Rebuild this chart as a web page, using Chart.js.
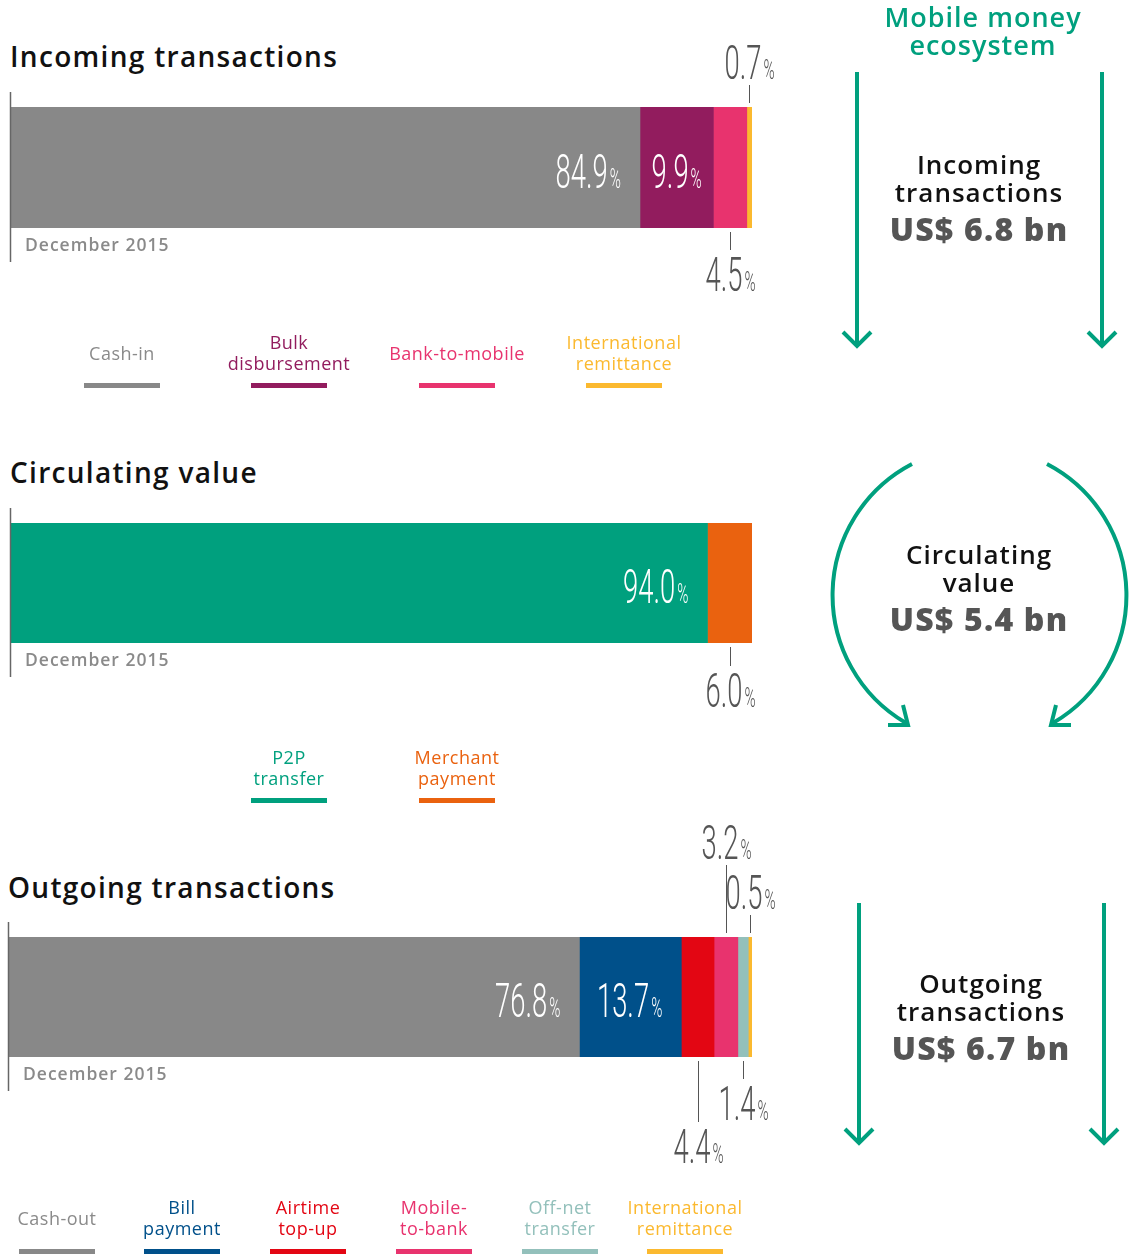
<!DOCTYPE html>
<html>
<head>
<meta charset="utf-8">
<script src="https://cdn.jsdelivr.net/npm/chart.js@4.4.1/dist/chart.umd.min.js"></script>
<style>
  body { margin: 0; background: #fff; }
  #page { position: relative; width: 1130px; height: 1254px; overflow: hidden; font-family: "Open Sans", sans-serif; }
  canvas { position: absolute; left: 0; }
  .title { position: absolute; font-size: 28px; font-weight: 600; color: #111; white-space: nowrap; letter-spacing: 1.3px; }
  .leg { position: absolute; transform: translate(-50%, -50%); text-align: center; font-size: 18px; font-weight: 400; line-height: 21px; white-space: nowrap; letter-spacing: 0.5px; }
  .legbar { position: absolute; width: 76px; height: 5px; }
  .side { position: absolute; transform: translateX(-50%); text-align: center; white-space: nowrap; }
  .side .name { font-size: 26px; font-weight: 600; color: #111; line-height: 28px; letter-spacing: 1px; }
  .side .amt { font-size: 32px; font-weight: 800; color: #555; line-height: 38px; margin-top: 4px; letter-spacing: 1.2px; }
  svg { position: absolute; left: 0; top: 0; }
</style>
</head>
<body>
<div id="page">
  <div class="title" style="left:10px; top:37px;">Incoming transactions</div>
  <div class="title" style="left:10px; top:453px;">Circulating value</div>
  <div class="title" style="left:8px; top:868px;">Outgoing transactions</div>

  <canvas id="chart1" width="800" height="280" style="top:30px"></canvas>
  <canvas id="chart2" width="800" height="280" style="top:450px"></canvas>
  <canvas id="chart3" width="800" height="380" style="top:810px"></canvas>

  <svg width="1130" height="1254">
    <g stroke="#00a07e" stroke-width="4" fill="none" stroke-linecap="butt">
      <line x1="857" y1="72" x2="857" y2="346"/>
      <polyline points="843,332 857,346 871,332"/>
      <line x1="1102" y1="72" x2="1102" y2="346"/>
      <polyline points="1088,332 1102,346 1116,332"/>

      <path d="M 912 464 A 148 148 0 0 0 906 723"/>
      <polyline points="888,725 908,725 903,705"/>
      <path d="M 1047 464 A 148 148 0 0 1 1053 723"/>
      <polyline points="1071,725 1051,725 1056,705"/>

      <line x1="859" y1="903" x2="859" y2="1143"/>
      <polyline points="845,1129 859,1143 873,1129"/>
      <line x1="1104" y1="903" x2="1104" y2="1143"/>
      <polyline points="1090,1129 1104,1143 1118,1129"/>
    </g>
  </svg>

  <div class="side" style="left:983px; top:3px; font-size:27px; font-weight:600; color:#00a07e; line-height:28px; letter-spacing:1px;">Mobile money<br>ecosystem</div>
  <div class="side" style="left:979px; top:150px;"><div class="name">Incoming<br>transactions</div><div class="amt">US$ 6.8 bn</div></div>
  <div class="side" style="left:979px; top:540px;"><div class="name">Circulating<br>value</div><div class="amt">US$ 5.4 bn</div></div>
  <div class="side" style="left:981px; top:969px;"><div class="name">Outgoing<br>transactions</div><div class="amt">US$ 6.7 bn</div></div>

  <div id="legends"></div>
</div>

<script>
// data
var period = ['December 2015'];

var incomingNames = ['Cash-in', 'Bulk disbursement', 'Bank-to-mobile', 'International remittance'];
var incomingLegend = [['Cash-in'], ['Bulk', 'disbursement'], ['Bank-to-mobile'], ['International', 'remittance']];
var incomingValues = [84.9, 9.9, 4.5, 0.7];
var incomingColors = ['#888888', '#921c5e', '#e8336e', '#fbb92f'];

var circNames = ['P2P transfer', 'Merchant payment'];
var circLegend = [['P2P', 'transfer'], ['Merchant', 'payment']];
var circValues = [94.0, 6.0];
var circColors = ['#00a07e', '#ea620f'];

var outNames = ['Cash-out', 'Bill payment', 'Airtime top-up', 'Mobile-to-bank', 'Off-net transfer', 'International remittance'];
var outLegend = [['Cash-out'], ['Bill', 'payment'], ['Airtime', 'top-up'], ['Mobile-', 'to-bank'], ['Off-net', 'transfer'], ['International', 'remittance']];
var outValues = [76.8, 13.7, 4.4, 3.2, 1.4, 0.5];
var outColors = ['#888888', '#00508a', '#e30613', '#e8336e', '#93c0bb', '#fbb92f'];

var legendText = {'#888888': '#8a8a8a'};

// condensed percentage label
function drawPct(ctx, num, x, baseline, align, color) {
    var sx = 0.56;
    ctx.save();
    ctx.font = '300 49px Roboto';
    var w1 = ctx.measureText(num).width * sx;
    ctx.font = '300 27px Roboto';
    var w2 = ctx.measureText('%').width * sx;
    var total = w1 + 2 + w2;
    var left = align === 'right' ? x - total : x - total / 2;
    ctx.fillStyle = color;
    ctx.textBaseline = 'alphabetic';
    ctx.textAlign = 'left';
    ctx.translate(left, baseline);
    ctx.scale(sx, 1);
    ctx.font = '300 49px Roboto';
    ctx.fillText(num, 0, 0);
    ctx.font = '300 27px Roboto';
    ctx.fillText('%', (w1 + 2) / sx, 0);
    ctx.restore();
}

var pctLabels = {
    id: 'pctLabels',
    afterDatasetsDraw: function(chart, args, opts) {
        var ctx = chart.ctx, area = chart.chartArea;
        // axis line + period label
        ctx.save();
        ctx.strokeStyle = '#666';
        ctx.lineWidth = 1.5;
        ctx.beginPath();
        ctx.moveTo(area.left + 0.5, area.top - 15);
        ctx.lineTo(area.left + 0.5, area.bottom + 34);
        ctx.stroke();
        ctx.fillStyle = '#8a8a8a';
        ctx.font = '600 17.5px "Open Sans"';
        ctx.letterSpacing = '1px';
        ctx.textBaseline = 'middle';
        ctx.fillText(chart.data.labels[0], area.left + 15, area.bottom + 18);
        ctx.restore();

        chart.data.datasets.forEach(function(ds, i) {
            var bar = chart.getDatasetMeta(i).data[0];
            var txt = ds.data[0].toFixed(1);
            var p = opts.place[i];
            var top = bar.y - bar.height / 2, bottom = bar.y + bar.height / 2;
            if (p[0] === 'in') {
                var right = bar.x - 19;
                var probeLeft = right - 60;
                if (probeLeft < bar.base + 8) {
                    drawPct(ctx, txt, (bar.x + bar.base) / 2, bar.y + 20, 'center', '#fff');
                } else {
                    drawPct(ctx, txt, right, bar.y + 20, 'right', '#fff');
                }
                return;
            }
            var cx = Math.round((bar.x + bar.base) / 2) + 0.5;
            ctx.save();
            ctx.strokeStyle = '#555';
            ctx.lineWidth = 1;
            ctx.beginPath();
            if (p[0] === 'up') {
                ctx.moveTo(cx, top - 4);
                ctx.lineTo(cx, top - 4 - p[1]);
                ctx.stroke();
                drawPct(ctx, txt, cx, top - 4 - p[1] - 6, 'center', '#555');
            } else {
                ctx.moveTo(cx, bottom + 4);
                ctx.lineTo(cx, bottom + 4 + p[1]);
                ctx.stroke();
                drawPct(ctx, txt, cx, bottom + 4 + p[1] + 41, 'center', '#555');
            }
            ctx.restore();
        });
    }
};

function makeBar(id, names, values, colors, place, pad) {
    return new Chart(document.getElementById(id), {
        type: 'bar',
        data: {
            labels: period,
            datasets: values.map(function(v, i) {
                return {
                    label: names[i],
                    data: [v],
                    backgroundColor: colors[i],
                    borderWidth: 0,
                    barPercentage: 1,
                    categoryPercentage: 1
                };
            })
        },
        options: {
            indexAxis: 'y',
            responsive: false,
            animation: false,
            layout: { padding: pad },
            scales: {
                x: { stacked: true, min: 0, max: 100, display: false },
                y: { stacked: true, display: false }
            },
            plugins: {
                legend: { display: false },
                tooltip: { enabled: false },
                pctLabels: { place: place }
            }
        },
        plugins: [pctLabels]
    });
}

makeBar('chart1', incomingNames, incomingValues, incomingColors,
    [['in'], ['in'], ['down', 18], ['up', 18]],
    { left: 10, right: 48, top: 77, bottom: 82 });
makeBar('chart2', circNames, circValues, circColors,
    [['in'], ['down', 19]],
    { left: 10, right: 48, top: 73, bottom: 87 });
makeBar('chart3', outNames, outValues, outColors,
    [['in'], ['in'], ['down', 61], ['up', 68], ['down', 18], ['up', 18]],
    { left: 8, right: 48, top: 127, bottom: 133 });

// legends
function legend(lines, colors, centers, textY, barY) {
    var box = document.getElementById('legends');
    lines.forEach(function(l, i) {
        var t = document.createElement('div');
        t.className = 'leg';
        t.style.left = centers[i] + 'px';
        t.style.top = textY + 'px';
        t.style.color = legendText[colors[i]] || colors[i];
        t.innerHTML = l.join('<br>');
        box.appendChild(t);
        var b = document.createElement('div');
        b.className = 'legbar';
        b.style.left = (centers[i] - 38) + 'px';
        b.style.top = barY + 'px';
        b.style.background = colors[i];
        box.appendChild(b);
    });
}
legend(incomingLegend, incomingColors, [122, 289, 457, 624], 353, 383);
legend(circLegend, circColors, [289, 457], 768, 798);
legend(outLegend, outColors, [57, 182, 308, 434, 560, 685], 1218, 1249);
</script>
</body>
</html>
